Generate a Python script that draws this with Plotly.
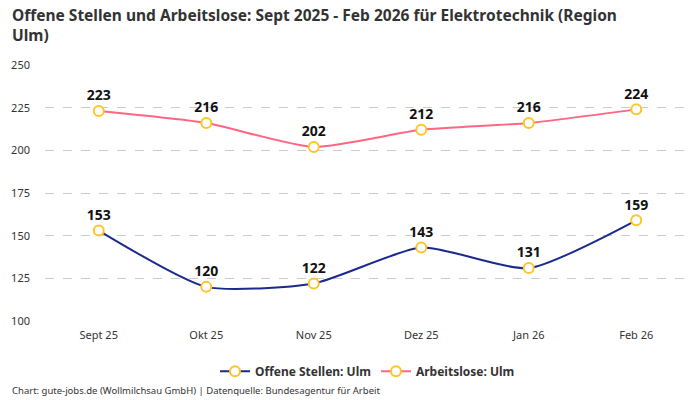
import plotly.graph_objects as go

months = ["Sept 25", "Okt 25", "Nov 25", "Dez 25", "Jan 26", "Feb 26"]
offene_stellen = [153, 120, 122, 143, 131, 159]
arbeitslose = [223, 216, 202, 212, 216, 224]

series = [
    ("Offene Stellen: Ulm", offene_stellen, "#1b2a8c"),
    ("Arbeitslose: Ulm", arbeitslose, "#ff6682"),
]

font_family = "Noto Sans, Open Sans, sans-serif"

fig = go.Figure()
for name, values, color in series:
    fig.add_trace(go.Scatter(
        x=months, y=values, name=name,
        mode="lines+markers+text",
        line=dict(color=color, width=2, shape="spline", smoothing=0.6),
        marker=dict(size=10, color="white", line=dict(color="#ffc425", width=2)),
        text=[str(v) for v in values],
        textposition="top center",
        textfont=dict(size=14, color="#111111", family=font_family, weight="bold"),
        cliponaxis=False,
    ))

fig.update_layout(
    width=700, height=400,
    margin=dict(l=45, r=10, t=65, b=79),
    paper_bgcolor="white",
    plot_bgcolor="white",
    font=dict(family=font_family, color="#333333", size=11),
    xaxis=dict(
        range=[-0.5, 5.5], showgrid=False, zeroline=False, showline=False,
        ticks="", tickfont=dict(size=11, color="#333333"), ticklabelstandoff=6,
    ),
    yaxis=dict(
        range=[100, 250], dtick=25, showgrid=True, gridcolor="#cccccc",
        griddash="dash", gridwidth=1, zeroline=False, showline=False,
        tickfont=dict(size=11, color="#333333"), ticklabelstandoff=14,
    ),
    legend=dict(
        orientation="h", x=0.5, xanchor="center", y=-0.14, yanchor="top",
        font=dict(size=12, color="#333333", weight="bold"),
    ),
    showlegend=True,
    annotations=[
        dict(
            text="Offene Stellen und Arbeitslose: Sept 2025 - Feb 2026 für Elektrotechnik (Region<br>Ulm)",
            xref="paper", yref="paper", x=-0.055, y=1.245, xanchor="left", yanchor="top",
            align="left", showarrow=False,
            font=dict(size=15.5, color="#333333", family=font_family, weight="bold"),
        ),
        dict(
            text="Chart: gute-jobs.de (Wollmilchsau GmbH) | Datenquelle: Bundesagentur für Arbeit",
            xref="paper", yref="paper", x=-0.055, y=-0.24, xanchor="left", yanchor="top",
            showarrow=False, font=dict(size=9.5, color="#333333"),
        ),
    ],
)

fig.write_html("out.html", config={"displayModeBar": False},
               post_script="document.body.style.margin='0';")
